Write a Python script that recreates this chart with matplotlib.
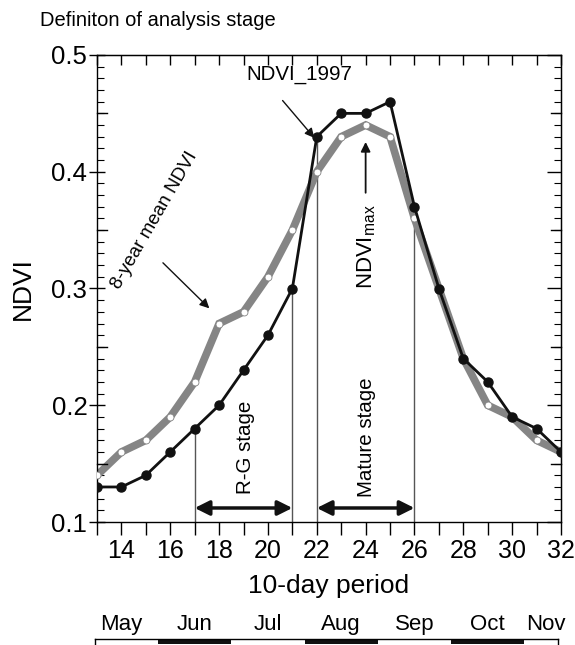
import matplotlib
matplotlib.use("Agg")
import matplotlib.pyplot as plt
from matplotlib.patches import Rectangle
from matplotlib.ticker import MultipleLocator, FormatStrFormatter
import numpy as np

plt.rcParams['font.family'] = ['Liberation Sans', 'DejaVu Sans']

# ---- data ----
periods = list(range(13, 33))
mean8 = [0.14, 0.16, 0.17, 0.19, 0.22, 0.27, 0.28, 0.31, 0.35, 0.40,
         0.43, 0.44, 0.43, 0.36, 0.30, 0.24, 0.20, 0.19, 0.17, 0.16]
ndvi1997 = [0.13, 0.13, 0.14, 0.16, 0.18, 0.20, 0.23, 0.26, 0.30, 0.43,
            0.45, 0.45, 0.46, 0.37, 0.30, 0.24, 0.22, 0.19, 0.18, 0.16]
stage_bounds = [17, 21, 22, 26]
months = ['May', 'Jun', 'Jul', 'Aug', 'Sep', 'Oct', 'Nov']
month_centers = [14, 17, 20, 23, 26, 29, 31.4]
month_edges = [12.92, 15.5, 18.5, 21.5, 24.5, 27.5, 30.5, 31.86]

fig = plt.figure(figsize=(5.75, 6.45), dpi=100)
ax = fig.add_axes([97/575, 1-522/645, (561-97)/575, (522-55)/645])

ax.plot(periods, mean8, color='#858585', lw=5.5, solid_joinstyle='miter', zorder=2)
ax.plot(periods, mean8, ls='none', marker='o', ms=5, mfc='white', mec='#858585', mew=0.6, zorder=3)
ax.plot(periods, ndvi1997, color='#111111', lw=2, marker='o', ms=6.5, mfc='#111111', mec='#111111', zorder=4)

# stage verticals
v1997 = dict(zip(periods, ndvi1997))
for b in stage_bounds:
    ax.plot([b, b], [0.1, v1997[b]], color='#555555', lw=1, zorder=1)

arr_y = 0.112
for x0, x1 in [(17, 21), (22, 26)]:
    ax.annotate('', xy=(x0, arr_y), xytext=(x1, arr_y),
                arrowprops=dict(arrowstyle='<|-|>', color='#111111', lw=2.5,
                                mutation_scale=22, shrinkA=0, shrinkB=0))
ax.text(19.1, 0.164, 'R-G stage', rotation=90, ha='center', va='center', fontsize=14.8)
ax.text(24.05, 0.173, 'Mature stage', rotation=90, ha='center', va='center', fontsize=14.8)

ax.text(21.3, 0.483, 'NDVI_1997', ha='center', va='center', fontsize=14.8)
ax.annotate('', xy=(21.9, 0.429), xytext=(20.6, 0.461),
            arrowprops=dict(arrowstyle='-|>', color='#111111', lw=1, mutation_scale=14,
                            shrinkA=0, shrinkB=0))
ax.text(15.35, 0.358, '8-year mean NDVI', rotation=60, ha='center', va='center', fontsize=13.5,
        rotation_mode='anchor')
ax.annotate('', xy=(17.6, 0.283), xytext=(15.7, 0.322),
            arrowprops=dict(arrowstyle='-|>', color='#111111', lw=1, mutation_scale=14,
                            shrinkA=0, shrinkB=0))
ax.text(24.03, 0.336, r'NDVI$_{\mathregular{max}}$', rotation=90, ha='center', va='center', fontsize=16)
ax.annotate('', xy=(24, 0.4255), xytext=(24, 0.382),
            arrowprops=dict(arrowstyle='-|>', color='#111111', lw=1.3, mutation_scale=14,
                            shrinkA=0, shrinkB=0))

ax.set_xlim(13, 32)
ax.set_ylim(0.1, 0.5)
ax.xaxis.set_major_locator(MultipleLocator(2))
ax.xaxis.set_minor_locator(MultipleLocator(1))
ax.yaxis.set_major_locator(MultipleLocator(0.1))
ax.yaxis.set_minor_locator(MultipleLocator(0.01))
ax.yaxis.set_major_formatter(FormatStrFormatter('%.1f'))
ax.tick_params(axis='x', which='both', direction='out', length=9, width=1, labelsize=18, pad=3)
ax.tick_params(axis='y', which='major', direction='inout', length=12, width=1, labelsize=18.5, pad=1)
ax.tick_params(axis='y', which='minor', direction='in', length=5, width=0.8)
for s in ax.spines.values():
    s.set_linewidth(1)

# medium ticks at 0.05 multiples
for yv in np.arange(0.15, 0.5, 0.1):
    ax.plot([0, 0.022], [yv, yv], color='black', lw=1, transform=ax.get_yaxis_transform(), clip_on=False)
    ax.plot([1, 1-0.022], [yv, yv], color='black', lw=1, transform=ax.get_yaxis_transform(), clip_on=False)

top = ax.secondary_xaxis('top')
top.xaxis.set_major_locator(MultipleLocator(1))
top.tick_params(direction='in', length=7, width=1, labeltop=False)
right = ax.secondary_yaxis('right')
right.yaxis.set_major_locator(MultipleLocator(0.1))
right.yaxis.set_minor_locator(MultipleLocator(0.01))
right.tick_params(which='major', direction='in', length=10, width=1, labelright=False)
right.tick_params(which='minor', direction='in', length=5, width=0.8)

ax.set_xlabel('10-day period', fontsize=19, labelpad=8)
ax.set_ylabel('NDVI', fontsize=19, labelpad=12)
fig.text(40/575, 1-20/645, 'Definiton of analysis stage', fontsize=14.5, ha='left', va='center')

# month bar
mx = fig.add_axes([97/575, 0, (561-97)/575, 45/645])
mx.set_xlim(13, 32)
mx.set_ylim(0, 1)
mx.axis('off')
box_top = 6/45
mx.plot([month_edges[0], month_edges[-1]], [box_top, box_top], color='black', lw=1, clip_on=False)
mx.plot([month_edges[0], month_edges[0]], [box_top, -0.1], color='black', lw=1, clip_on=False)
mx.plot([month_edges[-1], month_edges[-1]], [box_top, -0.1], color='black', lw=1, clip_on=False)
for i in range(len(months)):
    if i % 2 == 1:
        mx.add_patch(Rectangle((month_edges[i], box_top - 0.1), month_edges[i+1] - month_edges[i], 0.1,
                               color='#111111', lw=0, clip_on=False))
for m, c in zip(months, month_centers):
    mx.text(c, 0.45, m, ha='center', va='center', fontsize=16)

fig.savefig('out.png', dpi=100)
